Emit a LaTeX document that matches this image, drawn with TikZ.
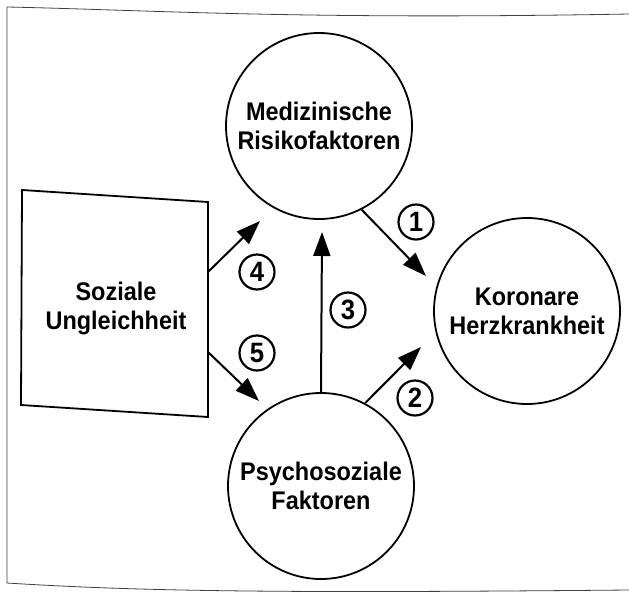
\documentclass[tikz,border=0pt]{standalone}
\usepackage{fontspec}
\setmainfont{Liberation Sans}[FakeStretch=0.92]
\usepackage{tikz}
\usetikzlibrary{arrows.meta,calc}

\tikzset{
  kreis/.style={draw,circle,line width=1.8pt,minimum size=186pt,inner sep=0pt,align=center,
                font=\fontsize{25.5}{29}\selectfont\bfseries},
  nummer/.style={draw,circle,line width=2.2pt,minimum size=35pt,inner sep=0pt,
                 font=\fontsize{28}{28}\selectfont\bfseries},
  pfeil/.style={line width=2pt,-{Triangle[length=24pt,width=17pt]}}
}

\begin{document}
\begin{tikzpicture}[x=1pt,y=-1pt]
\useasboundingbox (0,0) rectangle (629,595);
% Rahmen
\draw[black!75,line width=0.8pt] (629,14) .. controls (300,20) and (150,10) .. (7,7) -- (7,583)
      .. controls (150,592) and (300,593) .. (629,590);
\node[kreis]                 (med) at (319,126) {Medizinische\\Risikofaktoren};
\node[kreis]                 (khk) at (527,311) {Koronare\\Herzkrankheit};
\node[kreis]                 (psy) at (321,486) {Psychosoziale\\Faktoren};
\node[align=center,font=\fontsize{25.5}{29}\selectfont\bfseries] (soz) at (116,308) {Soziale\\Ungleichheit};
\draw[line width=1.8pt] (22,190) -- (208,202) -- (208,417) -- (21,405) -- cycle;
\coordinate (s4) at (208,272);
\coordinate (s5) at (208,352);
\coordinate (a1) at (426,276);
\coordinate (a2) at (421,347);
\coordinate (a3) at (322,232);
\coordinate (a4) at (260,221);
\coordinate (a5) at (259,401);
\node[nummer] (n1) at (416,222) {1};
\node[nummer] (n2) at (415,398) {2};
\node[nummer] (n3) at (348,310) {3};
\node[nummer] (n4) at (257,272) {4};
\node[nummer] (n5) at (257,353) {5};
\path[pfeil]
	(med.-63) edge (a1)
	(psy.62)  edge (a2)
	(psy.north) edge (a3)
	(s4)      edge (a4)
	(s5)      edge (a5)
; %-path-%
\end{tikzpicture}
\end{document}
